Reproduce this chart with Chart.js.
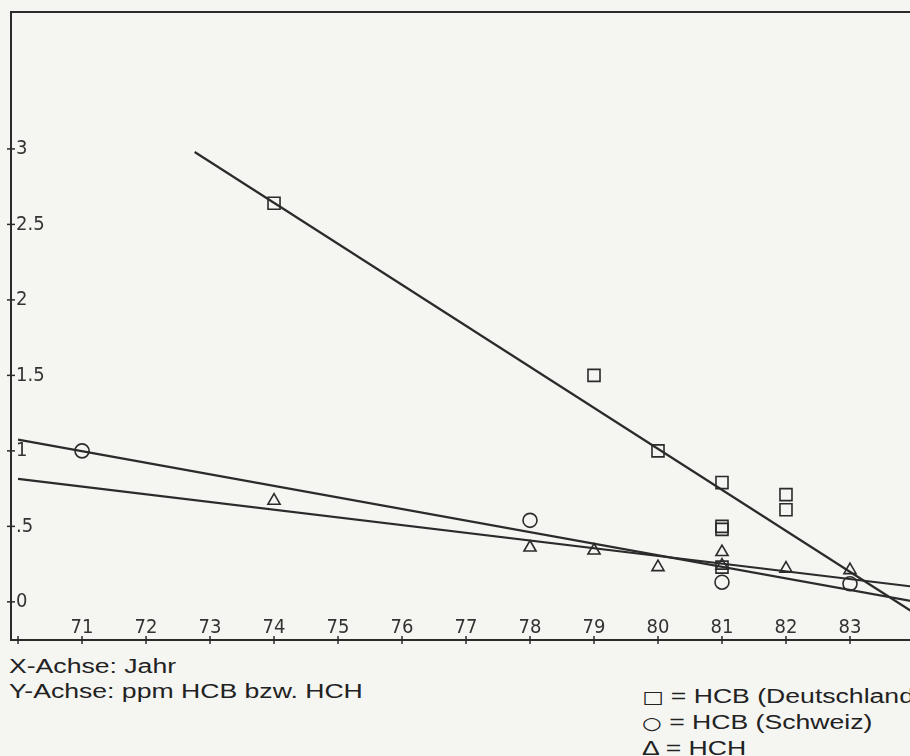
<!DOCTYPE html>
<html><head><meta charset="utf-8">
<script src="https://cdn.jsdelivr.net/npm/chart.js@4/dist/chart.umd.min.js"></script>
<style>
html,body{margin:0;padding:0;background:#f5f5f2;width:910px;height:756px;overflow:hidden;position:relative;font-family:"Liberation Sans",Arial,sans-serif;color:#222}
#wrap{position:absolute;left:0;top:0;width:926px;height:650px}
.cap{position:absolute;font-size:20px;line-height:25px;white-space:nowrap;transform:scaleX(1.33);transform-origin:0 0}
.sym{font-family:"DejaVu Sans",sans-serif;font-size:17px}
</style></head><body>
<div id="wrap"><canvas id="c" width="926" height="650"></canvas></div>
<div class="cap" style="left:9px;top:654px">X-Achse: Jahr<br>Y-Achse: ppm HCB bzw. HCH</div>
<div class="cap" style="left:642px;top:684px"><span class="sym">□</span> = HCB (Deutschland<br><span class="sym">○</span> = HCB (Schweiz)<br>Δ = HCH</div>
<script>
const xTickValues = [70,71,72,73,74,75,76,77,78,79,80,81,82,83];
const xTickLabels = ["","71","72","73","74","75","76","77","78","79","80","81","82","83"];
const yTickValues = [0,0.5,1,1.5,2,2.5,3];
const yTickLabels = ["0",".5","1","1.5","2","2.5","3"];

const hcbDeYears  = [74, 79, 80, 81, 81, 81, 81, 82, 82];
const hcbDeValues = [2.64, 1.50, 1.00, 0.79, 0.50, 0.48, 0.23, 0.71, 0.61];
const hcbChYears  = [71, 78, 81, 83];
const hcbChValues = [1.00, 0.54, 0.13, 0.12];
const hchYears    = [74, 78, 79, 80, 81, 81, 82, 83];
const hchValues   = [0.67, 0.36, 0.34, 0.23, 0.33, 0.24, 0.22, 0.21];

const hcbDeFitYears  = [72.76, 84.1];
const hcbDeFitValues = [2.98, -0.10];
const hcbChFitYears  = [70.0, 84.1];
const hcbChFitValues = [1.075, -0.005];
const hchFitYears    = [70.0, 84.1];
const hchFitValues   = [0.815, 0.095];

const pts = (xs, ys) => xs.map((x, i) => ({x, y: ys[i]}));
const ink = '#2b2b2b';
const tickFont = { family: '"Liberation Sans Narrow","DejaVu Sans Condensed",sans-serif', size: 20 };
const noPad = s => { s.paddingLeft = 0; s.paddingRight = 0; s.paddingTop = 0; s.paddingBottom = 0; };

const crossTicks = {
  id: 'crossTicks',
  afterDraw(chart) {
    const {ctx, chartArea: a} = chart;
    const xs = chart.scales.x, ys = chart.scales.y;
    ctx.save();
    ctx.strokeStyle = ink; ctx.lineWidth = 1.5;
    xs.ticks.forEach(t => {
      const p = xs.getPixelForValue(t.value);
      ctx.beginPath(); ctx.moveTo(p, a.bottom - 4); ctx.lineTo(p, a.bottom + 4); ctx.stroke();
    });
    ys.ticks.forEach(t => {
      const p = ys.getPixelForValue(t.value);
      ctx.beginPath(); ctx.moveTo(a.left - 4, p); ctx.lineTo(a.left + 4, p); ctx.stroke();
    });
    ctx.restore();
  }
};

const markerDs = (label, data, style, r) => ({
  type: 'scatter', label, data, pointStyle: style, pointRadius: r,
  pointBorderColor: ink, pointBackgroundColor: 'rgba(0,0,0,0)', pointBorderWidth: 1.6,
  showLine: false
});
const fitDs = (label, data) => ({
  type: 'line', label, data, borderColor: ink, borderWidth: 2.2, pointRadius: 0, fill: false, tension: 0
});

new Chart(document.getElementById('c'), {
  type: 'scatter',
  data: { datasets: [
    fitDs('Trend HCB (Deutschland)', pts(hcbDeFitYears, hcbDeFitValues)),
    fitDs('Trend HCB (Schweiz)', pts(hcbChFitYears, hcbChFitValues)),
    fitDs('Trend HCH', pts(hchFitYears, hchFitValues)),
    markerDs('HCB (Deutschland)', pts(hcbDeYears, hcbDeValues), 'rect', 8.5),
    markerDs('HCB (Schweiz)', pts(hcbChYears, hcbChValues), 'circle', 7),
    markerDs('HCH', pts(hchYears, hchValues), 'triangle', 7)
  ]},
  options: {
    responsive: false, animation: false, devicePixelRatio: 1,
    layout: { padding: { left: 11, top: 12, right: 0, bottom: 10 } },
    plugins: { legend: { display: false }, tooltip: { enabled: false } },
    scales: {
      x: {
        type: 'linear', position: 'bottom', min: 69.89, max: 84.03,
        afterBuildTicks: s => { s.ticks = xTickValues.map(v => ({value: v})); },
        afterFit: s => { s.height = 0; noPad(s); },
        grid: { display: false, drawTicks: false },
        border: { display: true, color: ink, width: 2 },
        ticks: { mirror: true, padding: 0, color: '#333', font: tickFont,
          maxRotation: 0, autoSkip: false,
          callback: (v) => xTickLabels[xTickValues.indexOf(v)] ?? '' }
      },
      x2: {
        type: 'linear', position: 'top', min: 69.89, max: 84.03,
        afterFit: s => { s.height = 0; noPad(s); },
        grid: { display: false, drawTicks: false },
        border: { display: true, color: ink, width: 2 },
        ticks: { display: false }
      },
      y: {
        type: 'linear', position: 'left', min: -0.252, max: 3.907,
        afterBuildTicks: s => { s.ticks = yTickValues.map(v => ({value: v})); },
        afterFit: s => { s.width = 0; noPad(s); },
        grid: { display: false, drawTicks: false },
        border: { display: true, color: ink, width: 2 },
        ticks: { mirror: true, padding: 5, color: '#333', font: tickFont,
          autoSkip: false,
          callback: (v) => yTickLabels[yTickValues.indexOf(v)] ?? '' }
      }
    }
  },
  plugins: [crossTicks]
});
</script>
</body></html>
